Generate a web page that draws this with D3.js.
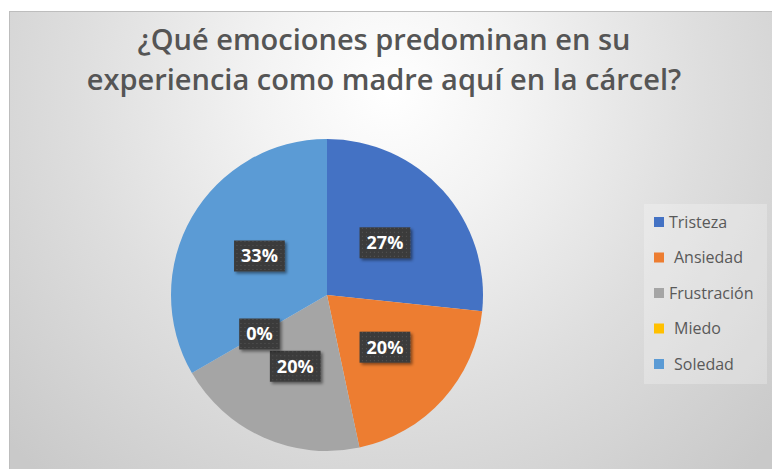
<!DOCTYPE html>
<html>
<head>
<meta charset="utf-8">
<script src="https://cdn.jsdelivr.net/npm/d3@7"></script>
<style>
  body { margin: 0; background: #fff; }
  svg { display: block; }
</style>
</head>
<body>
<div id="chart"></div>
<script>
// data (respondents, shown as %)
const categories = ["Tristeza", "Ansiedad", "Frustración", "Miedo", "Soledad"];
const counts = [4, 3, 3, 0, 5];
const colors = ["#4472C4", "#ED7D31", "#A5A5A5", "#FFC000", "#5B9BD5"];
const titleLines = ["¿Qué emociones predominan en su", "experiencia como madre aquí en la cárcel?"];

const width = 772, height = 469;
const svg = d3.select("#chart").append("svg")
    .attr("width", width)
    .attr("height", height);

const defs = svg.append("defs");

const bg = defs.append("radialGradient")
    .attr("id", "bg")
    .attr("gradientUnits", "userSpaceOnUse")
    .attr("cx", 390).attr("cy", 90).attr("r", 520);
bg.append("stop").attr("offset", "0").attr("stop-color", "#ffffff");
bg.append("stop").attr("offset", "0.25").attr("stop-color", "#f3f3f3");
bg.append("stop").attr("offset", "0.6").attr("stop-color", "#dedede");
bg.append("stop").attr("offset", "1").attr("stop-color", "#c9c9c9");

// dotted texture of the label boxes
const pat = defs.append("pattern")
    .attr("id", "dots")
    .attr("patternUnits", "userSpaceOnUse")
    .attr("width", 4).attr("height", 4);
pat.append("rect").attr("width", 4).attr("height", 4).attr("fill", "#3b3b3b");
pat.append("rect").attr("x", 1).attr("y", 1).attr("width", 1).attr("height", 1).attr("fill", "#565656");

const shadow = defs.append("filter")
    .attr("id", "shadow")
    .attr("x", "-30%").attr("y", "-30%")
    .attr("width", "160%").attr("height", "160%");
shadow.append("feDropShadow")
    .attr("dx", 2).attr("dy", 2)
    .attr("stdDeviation", 1.5)
    .attr("flood-color", "#000")
    .attr("flood-opacity", 0.45);

// chart area
svg.append("rect")
    .attr("x", 9.5).attr("y", 11.5)
    .attr("width", width - 9).attr("height", height - 11)
    .attr("fill", "url(#bg)")
    .attr("stroke", "#bdbdbd");

// title
svg.append("text")
    .attr("x", 384)
    .attr("y", 50)
    .attr("text-anchor", "middle")
    .attr("font-family", "Open Sans")
    .attr("font-weight", 600)
    .attr("font-size", 29)
    .attr("fill", "#555555")
    .selectAll("tspan")
    .data(titleLines)
    .enter().append("tspan")
    .attr("x", 384)
    .attr("dy", (d, i) => i === 0 ? 0 : 40)
    .text(d => d);

// pie
const radius = 156;
const cx = 327, cy = 295;
const total = d3.sum(counts);
const pie = d3.pie().sort(null).value(d => d.value);
const arc = d3.arc().innerRadius(0).outerRadius(radius);

const data = categories.map((c, i) => ({ name: c, value: counts[i], color: colors[i] }));
const arcs = pie(data);

const g = svg.append("g").attr("transform", `translate(${cx},${cy})`);

g.selectAll("path")
    .data(arcs)
    .enter().append("path")
    .attr("d", arc)
    .attr("fill", d => d.data.color);

// data labels
const fmt = v => Math.round(v / total * 100) + "%";
const labels = g.selectAll("g.lbl")
    .data(arcs)
    .enter().append("g")
    .attr("class", "lbl")
    .attr("transform", d => `translate(${arc.centroid(d)})`);

labels.each(function(d) {
    const sel = d3.select(this);
    const t = sel.append("text")
        .attr("text-anchor", "middle")
        .attr("dy", "0.36em")
        .attr("font-family", "Open Sans")
        .attr("font-weight", 700)
        .attr("font-size", 18)
        .attr("fill", "#fff")
        .text(fmt(d.data.value));
    const w = t.node().getComputedTextLength() + 14;
    sel.insert("rect", "text")
        .attr("x", -w / 2).attr("y", -15.5)
        .attr("width", w).attr("height", 31)
        .attr("fill", "url(#dots)")
        .attr("filter", "url(#shadow)");
});

// legend
svg.append("rect")
    .attr("x", 644).attr("y", 204)
    .attr("width", 123).attr("height", 180)
    .attr("fill", "#ffffff")
    .attr("fill-opacity", 0.25);

const legend = svg.append("g")
    .selectAll("g")
    .data(data)
    .enter().append("g")
    .attr("transform", (d, i) => `translate(654, ${222 + i * 35.5})`);

legend.append("rect")
    .attr("x", 0).attr("y", -5)
    .attr("width", 10).attr("height", 10)
    .attr("fill", d => d.color);

legend.append("text")
    .attr("x", (d, i) => i % 2 === 0 && i !== 4 ? 15 : 20)
    .attr("dy", "0.36em")
    .attr("font-family", "Open Sans")
    .attr("font-size", 16)
    .attr("fill", "#595959")
    .text(d => d.name);
</script>
</body>
</html>
